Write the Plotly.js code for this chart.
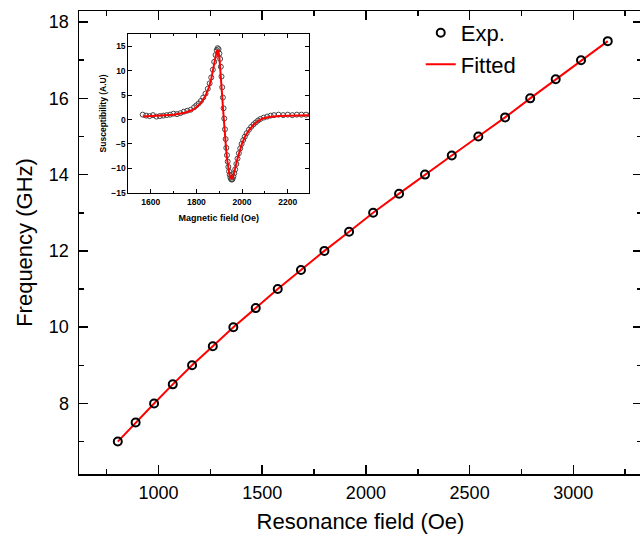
<!DOCTYPE html>
<html>
<head>
<meta charset="utf-8">
<script src="https://cdn.plot.ly/plotly-3.0.1.min.js"></script>
<style>
html,body{margin:0;padding:0;overflow:hidden;background:#fff;}
#chart{width:660px;height:539px;}
</style>
</head>
<body>
<div id="chart"></div>
<script>
// Main chart: resonance field (Oe) vs frequency (GHz)
const freq = [7.0, 7.5, 8.0, 8.5, 9.0, 9.5, 10.0, 10.5, 11.0, 11.5, 12.0, 12.5, 13.0, 13.5, 14.0, 14.5, 15.0, 15.5, 16.0, 16.5, 17.0, 17.5];
const resField = [804, 890, 979, 1069, 1162, 1262, 1361, 1469, 1575, 1687, 1800, 1919, 2035, 2160, 2285, 2414, 2542, 2671, 2792, 2915, 3037, 3166];
const fitField = [804, 890, 979, 1069, 1162, 1262, 1361, 1469, 1575, 1687, 1800, 1919, 2035, 2160, 2285, 2414, 2542, 2671, 2792, 2915, 3037, 3166];
const fitFreq = [7.0, 7.5, 8.0, 8.5, 9.0, 9.5, 10.0, 10.5, 11.0, 11.5, 12.0, 12.5, 13.0, 13.5, 14.0, 14.5, 15.0, 15.5, 16.0, 16.5, 17.0, 17.5];

// Inset: susceptibility vs magnetic field
const insetField = [1565,1580,1595,1610,1625,1640,1655,1670,1685,1700,1715,1730,1745,1760,1775,1790,1800,1810,1820,1830,1840,1850,1858,1865,1872,1878,1884,1889,1893,1897,1901,1904,1907,1910,1913,1916,1919,1922,1925,1928,1931,1934,1937,1940,1943,1946,1949,1952,1955,1958,1962,1966,1970,1975,1980,1986,1992,1998,2005,2012,2020,2030,2040,2050,2060,2070,2080,2095,2110,2125,2140,2160,2180,2200,2220,2240,2260,2280,2300];
const insetChi = [1.0,0.8,0.7,0.9,0.6,0.7,0.8,0.9,1.0,1.2,1.1,1.3,1.6,1.8,2.0,2.5,2.9,3.3,3.8,4.5,5.3,6.3,7.4,8.6,10.2,11.8,13.2,14.2,14.6,14.4,13.5,12.4,10.8,8.8,6.6,4.5,2.3,0.2,-2.0,-4.0,-5.8,-7.3,-8.6,-9.7,-10.6,-11.3,-11.9,-12.2,-12.3,-12.2,-11.7,-11.0,-10.2,-9.1,-8.0,-6.9,-5.9,-5.0,-4.2,-3.5,-2.8,-2.1,-1.5,-1.0,-0.6,-0.2,0.1,0.4,0.6,0.8,0.9,1.0,0.9,1.0,0.9,1.0,1.0,1.0,1.0];
const insetFitField = [1565,1600,1650,1700,1750,1780,1800,1820,1840,1855,1865,1875,1883,1889,1893,1897,1901,1905,1909,1913,1917,1921,1925,1930,1935,1940,1945,1950,1955,1960,1966,1972,1980,1990,2000,2015,2030,2050,2070,2090,2120,2160,2200,2250,2300];
const insetFitChi = [0.6,0.7,0.8,1.0,1.4,1.9,2.5,3.4,4.9,6.6,8.3,10.8,12.9,14.0,14.2,13.8,12.6,10.4,7.6,4.8,2.0,-0.8,-3.3,-6.0,-8.3,-10.1,-11.3,-11.9,-12.1,-11.8,-10.9,-9.6,-8.0,-6.3,-4.9,-3.3,-2.2,-1.1,-0.3,0.2,0.5,0.7,0.8,0.8,0.9];

const FONT = 'Arial, "Liberation Sans", sans-serif';

const traces = [
  {x: fitField, y: fitFreq, type: 'scatter', mode: 'lines', name: 'Fitted',
   line: {color: '#ff0000', width: 2}, xaxis: 'x', yaxis: 'y'},
  {x: resField, y: freq, type: 'scatter', mode: 'markers', name: 'Exp.',
   marker: {symbol: 'circle-open', size: 8, color: '#000', line: {width: 2, color: '#000'}},
   xaxis: 'x', yaxis: 'y'},
  {x: insetField, y: insetChi, type: 'scatter', mode: 'markers', showlegend: false,
   marker: {symbol: 'circle-open', size: 5, color: '#444', line: {width: 1, color: '#444'}},
   xaxis: 'x2', yaxis: 'y2'},
  {x: insetFitField, y: insetFitChi, type: 'scatter', mode: 'lines', showlegend: false,
   line: {color: '#ff0000', width: 2}, xaxis: 'x2', yaxis: 'y2'}
];

const layout = {
  width: 660, height: 539,
  margin: {l: 79, r: 18, t: 11, b: 65},
  paper_bgcolor: '#fff', plot_bgcolor: '#fff',
  font: {family: FONT, color: '#000'},
  showlegend: true,
  legend: {x: 0.607, y: 0.998, xanchor: 'left', yanchor: 'top', traceorder: 'reversed',
           font: {size: 22, family: FONT, color: '#000'}, bgcolor: 'rgba(0,0,0,0)', tracegroupgap: 0},
  xaxis: {
    range: [617, 3331], domain: [0, 1],
    showline: true, linecolor: '#000', linewidth: 1.5, mirror: 'ticks',
    ticks: 'inside', ticklen: 9, tickwidth: 1.5, tickcolor: '#000',
    tickvals: [1000, 1500, 2000, 2500, 3000],
    minor: {ticks: 'inside', ticklen: 5, tickwidth: 1.5, tickcolor: '#000', tickvals: [750, 1250, 1750, 2250, 2750, 3250]},
    showgrid: false, zeroline: false, ticklabelstandoff: 2,
    tickfont: {size: 18, family: FONT, color: '#000'},
    title: {text: 'Resonance field (Oe)', font: {size: 22, family: FONT, color: '#000'}, standoff: 11}
  },
  yaxis: {
    range: [6.15, 18.29], domain: [0, 1],
    showline: true, linecolor: '#000', linewidth: 1.5, mirror: 'ticks',
    ticks: 'inside', ticklen: 9, tickwidth: 1.5, tickcolor: '#000',
    tickvals: [8, 10, 12, 14, 16, 18],
    minor: {ticks: 'inside', ticklen: 5, tickwidth: 1.5, tickcolor: '#000', tickvals: [7, 9, 11, 13, 15, 17]},
    showgrid: false, zeroline: false, ticklabelstandoff: 5,
    tickfont: {size: 18, family: FONT, color: '#000'},
    title: {text: 'Frequency (GHz)', font: {size: 22, family: FONT, color: '#000'}, standoff: 10}
  },
  xaxis2: {
    anchor: 'y2', domain: [0.0876, 0.4085], range: [1502, 2293],
    showline: true, linecolor: '#000', linewidth: 1, mirror: 'ticks',
    ticks: 'inside', ticklen: 4, tickwidth: 1, tickcolor: '#000',
    tickvals: [1600, 1800, 2000, 2200],
    minor: {ticks: 'inside', ticklen: 2, tickwidth: 1, tickcolor: '#000', tickvals: [1700, 1900, 2100]},
    showgrid: false, zeroline: false, ticklabelstandoff: 1,
    tickfont: {size: 8.5, family: FONT, color: '#000', weight: 'bold'},
    title: {text: 'Magnetic field (Oe)', font: {size: 9, family: FONT, color: '#000', weight: 'bold'}, standoff: 8}
  },
  yaxis2: {
    anchor: 'x2', domain: [0.6073, 0.9503], range: [-15, 17.5],
    showline: true, linecolor: '#000', linewidth: 1, mirror: 'ticks',
    ticks: 'inside', ticklen: 4, tickwidth: 1, tickcolor: '#000',
    tickvals: [-15, -10, -5, 0, 5, 10, 15],
    showgrid: false, zeroline: false,
    tickfont: {size: 8.5, family: FONT, color: '#000', weight: 'bold'},
    title: {text: 'Susceptibility (A.U)', font: {size: 8.5, family: FONT, color: '#000', weight: 'bold'}, standoff: 3}
  }
};

Plotly.newPlot('chart', traces, layout, {displayModeBar: false, staticPlot: true});
</script>
</body>
</html>
